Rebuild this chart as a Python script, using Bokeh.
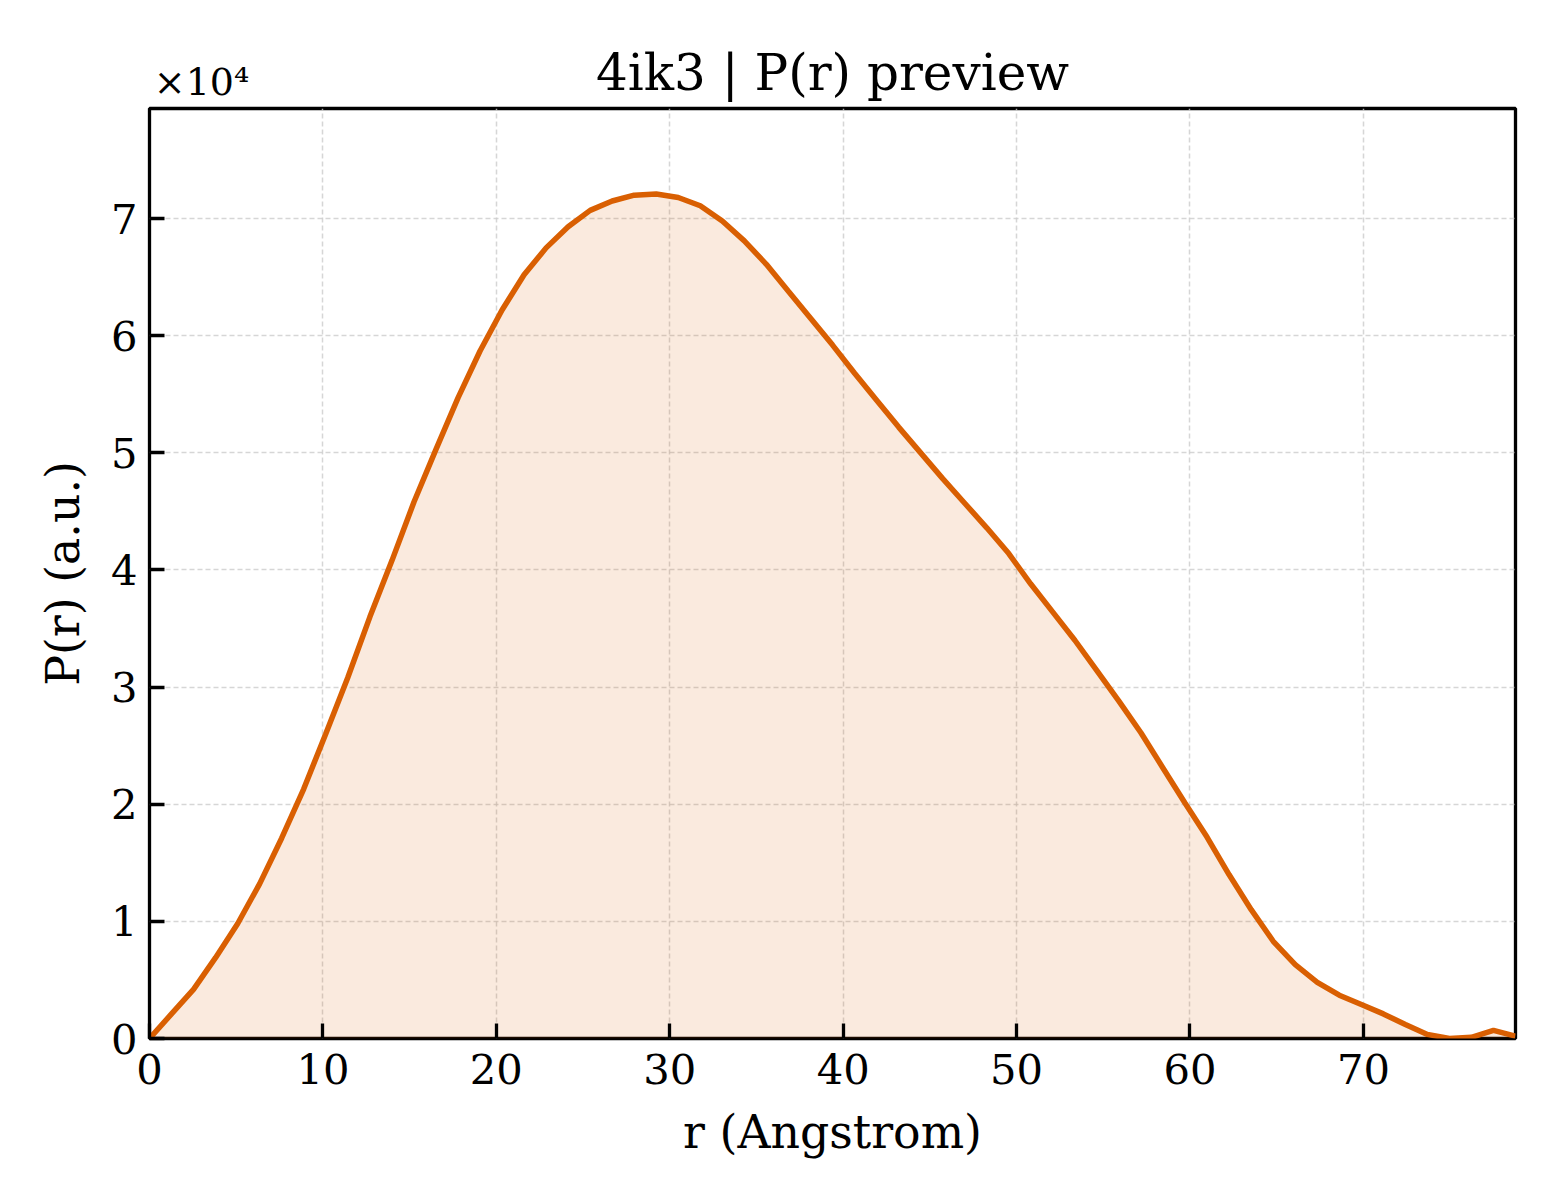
from bokeh.plotting import figure
from bokeh.models import (ColumnDataSource, FixedTicker, CustomJSTickFormatter,
                          LinearAxis, Title)
from bokeh.embed import file_html
from bokeh.resources import INLINE

# P(r) curve read from the preview (r in Angstrom, P(r) in a.u.)
r = [0.00, 1.27, 2.54, 3.81, 5.08, 6.35, 7.62, 8.89, 10.16, 11.43,
     12.71, 13.98, 15.25, 16.52, 17.79, 19.06, 20.33, 21.60, 22.87, 24.14,
     25.41, 26.68, 27.95, 29.22, 30.49, 31.76, 33.03, 34.30, 35.57, 36.84,
     38.12, 39.39, 40.66, 41.93, 43.20, 44.47, 45.74, 47.01, 48.28, 49.55,
     50.82, 52.09, 53.36, 54.63, 55.90, 57.17, 58.44, 59.71, 60.98, 62.25,
     63.53, 64.80, 66.07, 67.34, 68.61, 69.88, 71.15, 72.42, 73.69, 74.96,
     76.23, 77.50, 78.77]
pr = [0, 2100, 4200, 6900, 9800, 13200, 17100, 21300, 26000, 30800,
      36000, 40800, 45800, 50300, 54700, 58700, 62200, 65200, 67500, 69300,
      70700, 71500, 72000, 72100, 71800, 71100, 69800, 68100, 66100, 63800,
      61500, 59200, 56800, 54500, 52200, 50000, 47800, 45700, 43600, 41400,
      38800, 36400, 34000, 31400, 28800, 26100, 23100, 20100, 17200, 14000,
      11000, 8300, 6300, 4800, 3700, 2900, 2100, 1200, 350, 0,
      100, 700, 200]

x_ticks = [0, 10, 20, 30, 40, 50, 60, 70]
y_ticks = [0, 10000, 20000, 30000, 40000, 50000, 60000, 70000]
offset_text = "×10⁴"

FONT = "DejaVu Serif"
ORANGE = "#d95f02"

src = ColumnDataSource(data=dict(r=r, pr=pr))

p = figure(width=1560, height=1200, x_range=(0, 78.77), y_range=(0, 79400),
           output_backend="svg", toolbar_location=None,
           min_border_left=149, min_border_right=45,
           min_border_top=108, min_border_bottom=162,
           title=None)

p.varea(x="r", y1=0, y2="pr", source=src, fill_color=ORANGE, fill_alpha=0.13)
p.line(x="r", y="pr", source=src, line_color=ORANGE, line_width=5.5)

# main title first (closest to the frame)
p.add_layout(Title(text="4ik3 | P(r) preview", align="center", text_font=FONT,
                   text_font_size="50px", text_font_style="normal",
                   text_color="black", standoff=14), "above")

p.outline_line_color = "black"
p.outline_line_width = 3.3
p.outline_line_alpha = 1.0

p.xaxis.ticker = FixedTicker(ticks=x_ticks)
p.yaxis.ticker = FixedTicker(ticks=y_ticks)
p.yaxis.formatter = CustomJSTickFormatter(code="return (tick / 1e4).toFixed(0);")

for ax in (p.xaxis, p.yaxis):
    ax.axis_line_color = None
    ax.major_tick_in = 15
    ax.major_tick_out = 0
    ax.major_tick_line_width = 3.3
    ax.major_tick_line_color = "black"
    ax.minor_tick_line_color = None
    ax.major_label_text_font = FONT
    ax.major_label_text_font_size = "41.7px"
    ax.major_label_text_color = "black"
    ax.axis_label_text_font = FONT
    ax.axis_label_text_font_size = "45.8px"
    ax.axis_label_text_font_style = "normal"
    ax.axis_label_text_color = "black"

p.xaxis.axis_label = "r (Angstrom)"
p.yaxis.axis_label = "P(r) (a.u.)"
p.xaxis.major_label_standoff = 15
p.yaxis.major_label_standoff = 12
p.xaxis.axis_label_standoff = 18
p.yaxis.axis_label_standoff = 18

# scale factor of the y axis, drawn as a lone tick label of an extra top axis
scale_axis = LinearAxis(ticker=FixedTicker(ticks=[3.0]),
                        major_label_overrides={3.0: offset_text})
scale_axis.axis_line_color = None
scale_axis.major_tick_line_color = None
scale_axis.minor_tick_line_color = None
scale_axis.major_tick_out = 0
scale_axis.major_tick_in = 0
scale_axis.major_label_standoff = -69
scale_axis.major_label_text_font = FONT
scale_axis.major_label_text_font_size = "38px"
scale_axis.major_label_text_color = "black"
p.add_layout(scale_axis, "above")

p.xgrid.ticker = FixedTicker(ticks=x_ticks)
p.ygrid.ticker = FixedTicker(ticks=y_ticks)
for g in (p.xgrid, p.ygrid):
    g.grid_line_color = "#cccccc"
    g.grid_line_alpha = 0.8
    g.grid_line_width = 1.5
    g.grid_line_dash = "5 3"

p.background_fill_color = "white"
p.border_fill_color = "white"

open("out.html", "w").write(file_html(p, INLINE))
